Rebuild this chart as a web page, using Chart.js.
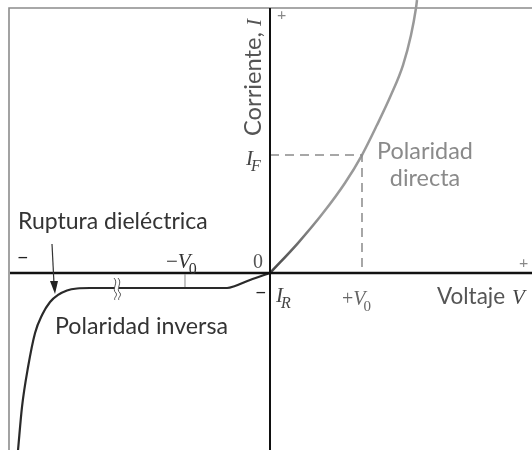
<!DOCTYPE html>
<html>
<head>
<meta charset="utf-8">
<script src="https://cdn.jsdelivr.net/npm/chart.js@4"></script>
<style>
html, body { margin: 0; padding: 0; background: #fff; }
#wrap { width: 532px; height: 450px; }
</style>
</head>
<body>
<div id="wrap"><canvas id="chartDiodo" width="532" height="450"></canvas></div>
<script>
// Curva característica I-V de un diodo (x en unidades de V0, y en unidades de IF)
var directaV = [0, 0.304, 0.576, 0.815, 1.0, 1.163, 1.315, 1.446, 1.533, 1.587, 1.598];
var directaI = [0, 0.254, 0.508, 0.763, 1.0, 1.254, 1.508, 1.763, 2.017, 2.246, 2.314];
var inversaV = [-2.739, -2.696, -2.630, -2.554, -2.478, -2.391, -2.304, -2.207, -2.098, -1.957, -1.630, -0.761, -0.467, -0.380, -0.217, 0];
var inversaI = [-1.5, -1.136, -0.797, -0.508, -0.356, -0.246, -0.186, -0.148, -0.131, -0.127, -0.127, -0.127, -0.127, -0.110, -0.059, 0];
var guiaV = [0, 1, 1];
var guiaI = [1, 1, 0];
var rangoV = [-2.935, 2.848];
var rangoI = [-1.5, 2.314];
var marcaNegV = -0.924;
var corteV = -1.663;

var SANS = 'Lato, "Open Sans", sans-serif';
var SERIF = '"Liberation Serif", "DejaVu Serif", serif';

function puntos(xs, ys) {
    return xs.map(function (v, i) { return { x: v, y: ys[i] }; });
}

// tamaño de letra para que el texto ocupe un ancho dado
function tamAncho(ctx, txt, ancho) {
    ctx.font = '20px ' + SANS;
    return 20 * ancho / ctx.measureText(txt).width;
}

function textoSans(ctx, txt, x, y, size, color, align) {
    ctx.font = size.toFixed(1) + 'px ' + SANS;
    ctx.fillStyle = color;
    ctx.textAlign = align || 'left';
    ctx.fillText(txt, x, y);
    ctx.textAlign = 'left';
}

function textoAncho(ctx, txt, x, y, ancho, color, align) {
    textoSans(ctx, txt, x, y, tamAncho(ctx, txt, ancho), color, align);
}

// texto con letra cursiva y subíndice opcional, p.ej. "-V0"
function textoVar(ctx, x, y, pre, letra, sub, color, size) {
    ctx.fillStyle = color;
    ctx.textBaseline = 'alphabetic';
    ctx.textAlign = 'left';
    var cx = x;
    if (pre) {
        ctx.font = size + 'px ' + SERIF;
        ctx.fillText(pre, cx, y);
        cx += ctx.measureText(pre).width;
    }
    ctx.font = 'italic ' + size + 'px ' + SERIF;
    ctx.fillText(letra, cx, y);
    cx += ctx.measureText(letra).width;
    if (sub) {
        var estilo = /[0-9]/.test(sub) ? '' : 'italic ';
        ctx.font = estilo + Math.round(size * 0.75) + 'px ' + SERIF;
        ctx.fillText(sub, cx - 2, y + size * 0.3);
    }
}

var dibujoFondo = {
    id: 'dibujoFondo',
    beforeDatasetsDraw: function (chart) {
        var ctx = chart.ctx;
        var a = chart.chartArea;
        ctx.save();
        ctx.fillStyle = '#fff';
        ctx.fillRect(a.left, a.top, a.right - a.left, a.bottom - a.top);
        // marco superior e izquierdo
        ctx.strokeStyle = '#8c8c8c';
        ctx.lineWidth = 1.6;
        ctx.beginPath();
        ctx.moveTo(a.left + 9, a.bottom);
        ctx.lineTo(a.left + 9, a.top + 8);
        ctx.lineTo(a.right, a.top + 8);
        ctx.stroke();
        ctx.restore();
    },
    afterDatasetsDraw: function (chart) {
        var ctx = chart.ctx;
        var sx = chart.scales.x, sy = chart.scales.y;
        var a = chart.chartArea;
        var x0 = sx.getPixelForValue(0), y0 = sy.getPixelForValue(0);
        ctx.save();

        // ejes
        ctx.strokeStyle = '#111';
        ctx.lineWidth = 2.5;
        ctx.beginPath();
        ctx.moveTo(a.left + 10, y0);
        ctx.lineTo(a.right, y0);
        ctx.stroke();
        ctx.lineWidth = 2;
        ctx.beginPath();
        ctx.moveTo(x0, a.top + 8);
        ctx.lineTo(x0, a.bottom);
        ctx.stroke();

        // marca de -V0
        var xm = sx.getPixelForValue(marcaNegV);
        ctx.strokeStyle = '#888';
        ctx.lineWidth = 1;
        ctx.beginPath();
        ctx.moveTo(xm, y0 + 1);
        ctx.lineTo(xm, y0 + 14);
        ctx.stroke();

        // corte del eje
        var xc = sx.getPixelForValue(corteV);
        ctx.fillStyle = '#fff';
        ctx.fillRect(xc - 2, y0 + 6, 4, 22);
        ctx.strokeStyle = '#555';
        ctx.lineWidth = 1;
        [-2, 2].forEach(function (d) {
            ctx.beginPath();
            ctx.moveTo(xc + d - 1, y0 + 5);
            ctx.bezierCurveTo(xc + d + 4, y0 + 10, xc + d - 4, y0 + 16, xc + d + 1, y0 + 20);
            ctx.bezierCurveTo(xc + d + 3, y0 + 23, xc + d - 2, y0 + 25, xc + d, y0 + 27);
            ctx.stroke();
        });

        // flecha de ruptura
        ctx.strokeStyle = '#333';
        ctx.fillStyle = '#222';
        ctx.lineWidth = 1.2;
        ctx.beginPath();
        ctx.moveTo(52, 244);
        ctx.lineTo(54, 284);
        ctx.stroke();
        ctx.beginPath();
        ctx.moveTo(55, 294);
        ctx.lineTo(50, 281);
        ctx.lineTo(58, 281);
        ctx.closePath();
        ctx.fill();

        // rótulos
        ctx.textBaseline = 'alphabetic';
        textoAncho(ctx, 'Ruptura dieléctrica', 18, 229, 190, '#333');
        textoAncho(ctx, 'Polaridad inversa', 55, 334, 173, '#333');
        textoAncho(ctx, 'Voltaje', 437, 304, 68, '#555');
        var tPol = tamAncho(ctx, 'Polaridad', 96);
        textoSans(ctx, 'Polaridad', 425, 159, tPol, '#8a8a8a', 'center');
        textoSans(ctx, 'directa', 425, 186, tPol, '#8a8a8a', 'center');

        ctx.fillStyle = '#222';
        ctx.font = '20px ' + SANS;
        ctx.fillText('\u2212', 17, 264);
        ctx.fillText('\u2212', 255, 299);
        ctx.fillStyle = '#888';
        ctx.font = '16px ' + SANS;
        ctx.fillText('+', 519, 268);
        ctx.fillText('+', 277, 20);

        ctx.fillStyle = '#555';
        ctx.font = '20px ' + SERIF;
        ctx.fillText('0', 253, 268);

        textoVar(ctx, 166, 268, '\u2212', 'V', '0', '#333', 21);
        textoVar(ctx, 342, 305, '+', 'V', '0', '#666', 20);
        textoVar(ctx, 276, 302, '', 'I', 'R', '#444', 21);
        textoVar(ctx, 246, 165, '', 'I', 'F', '#444', 21);

        ctx.fillStyle = '#444';
        ctx.font = 'italic 21px ' + SERIF;
        ctx.fillText('V', 512, 304);

        // título del eje vertical, girado
        ctx.save();
        ctx.translate(261, 136);
        ctx.rotate(-Math.PI / 2);
        textoAncho(ctx, 'Corriente,', 0, 0, 104, '#555');
        ctx.font = 'italic 21px ' + SERIF;
        ctx.fillStyle = '#555';
        ctx.fillText('I', 110, 0);
        ctx.restore();

        ctx.restore();
    }
};

function colorDirecta(context) {
    var chart = context.chart;
    var a = chart.chartArea;
    if (!a) return '#888';
    var y0 = chart.scales.y.getPixelForValue(0);
    var g = chart.ctx.createLinearGradient(0, y0, 0, y0 - 60);
    g.addColorStop(0, '#444');
    g.addColorStop(1, '#999');
    return g;
}

new Chart(document.getElementById('chartDiodo'), {
    type: 'scatter',
    data: {
        datasets: [{
            data: puntos(guiaV, guiaI),
            showLine: true,
            borderColor: '#8a8a8a',
            borderWidth: 1.5,
            borderDash: [9, 6],
            pointRadius: 0
        }, {
            data: puntos(directaV, directaI),
            showLine: true,
            borderColor: colorDirecta,
            borderWidth: 2.5,
            cubicInterpolationMode: 'monotone',
            pointRadius: 0
        }, {
            data: puntos(inversaV, inversaI),
            showLine: true,
            borderColor: '#2a2a2a',
            borderWidth: 2.2,
            cubicInterpolationMode: 'monotone',
            pointRadius: 0
        }]
    },
    options: {
        responsive: false,
        animation: false,
        devicePixelRatio: 1,
        layout: { padding: 0 },
        plugins: { legend: { display: false }, tooltip: { enabled: false } },
        scales: {
            x: { type: 'linear', min: rangoV[0], max: rangoV[1], display: false },
            y: { type: 'linear', min: rangoI[0], max: rangoI[1], display: false }
        }
    },
    plugins: [dibujoFondo]
});
</script>
</body>
</html>
